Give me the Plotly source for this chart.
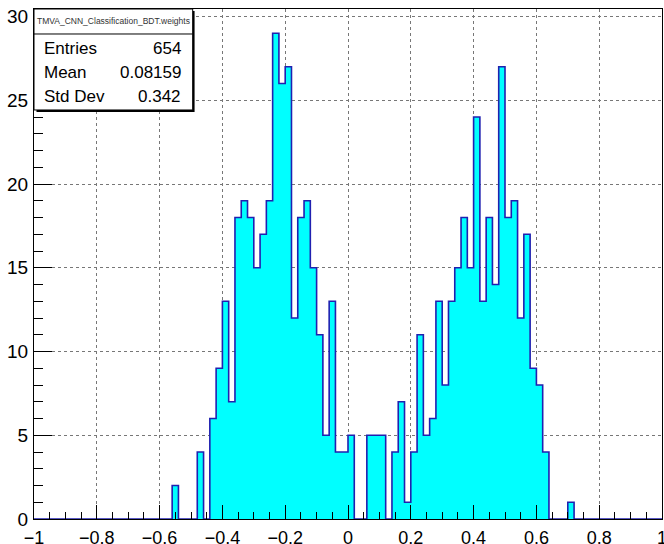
import numpy as np
import plotly.graph_objects as go

# Histogram definition
x_min, x_max, n_bins = -1.0, 1.0, 100

# Non-empty bins: lower edge of each bin and its count
bin_low = [-0.56, -0.48, -0.44, -0.42, -0.40, -0.38, -0.36, -0.34, -0.32, -0.30,
           -0.28, -0.26, -0.24, -0.22, -0.20, -0.18, -0.16, -0.14, -0.12, -0.10,
           -0.08, -0.06, -0.04, -0.02, 0.00, 0.06, 0.08, 0.10, 0.14, 0.16,
           0.18, 0.20, 0.22, 0.24, 0.26, 0.28, 0.30, 0.32, 0.34, 0.36,
           0.38, 0.40, 0.42, 0.44, 0.46, 0.48, 0.50, 0.52, 0.54, 0.56,
           0.58, 0.60, 0.62, 0.70]
counts = [2, 4, 6, 9, 13, 7, 18, 19, 18, 15,
          17, 19, 29, 26, 27, 12, 18, 19, 15, 11,
          5, 13, 4, 4, 5, 5, 5, 5, 4, 7,
          1, 4, 11, 5, 6, 13, 8, 13, 15, 18,
          15, 24, 13, 18, 14, 27, 18, 19, 12, 17,
          9, 8, 4, 1]

x_tick_vals = [-1, -0.8, -0.6, -0.4, -0.2, 0, 0.2, 0.4, 0.6, 0.8, 1]
x_tick_text = ["\u22121", "\u22120.8", "\u22120.6", "\u22120.4", "\u22120.2", "0",
               "0.2", "0.4", "0.6", "0.8", "1"]
y_tick_vals = [0, 5, 10, 15, 20, 25, 30]
y_tick_text = ["0", "5", "10", "15", "20", "25", "30"]

stats_title = "TMVA_CNN_Classification_BDT.weights"
stats_labels = ["Entries", "Mean", "Std Dev"]
stats_values = ["654", "0.08159", "0.342"]

# Build full binned content
width = (x_max - x_min) / n_bins
edges = x_min + width * np.arange(n_bins + 1)
full = np.zeros(n_bins)
for lo, c in zip(bin_low, counts):
    full[int(round((lo - x_min) / width))] = c
step_y = np.append(full, full[-1])

FONT = "Liberation Sans, Arial, Helvetica, sans-serif"

fig = go.Figure()
fig.add_trace(go.Scatter(
    x=edges, y=step_y, mode="lines", line_shape="hv",
    fill="tozeroy", fillcolor="#00ffff",
    line=dict(color="#2020b0", width=1.6),
    hoverinfo="skip", showlegend=False,
))

ymax = max(counts) * 1.05

fig.update_layout(
    width=664, height=544,
    margin=dict(l=34, r=2, t=9, b=25, autoexpand=False),
    paper_bgcolor="white", plot_bgcolor="white",
    font=dict(family=FONT, size=18, color="black"),
    showlegend=False,
    xaxis=dict(
        range=[x_min, x_max], tickmode="array", tickvals=x_tick_vals, ticktext=x_tick_text,
        ticks="inside", ticklen=14, tickwidth=1, tickcolor="black",
        minor=dict(ticks="inside", ticklen=7, dtick=0.05, tick0=0, tickcolor="black", showgrid=False),
        showline=True, linecolor="black", linewidth=1, mirror=True,
        showgrid=True, gridcolor="#777777", griddash="dot", gridwidth=1,
        zeroline=False, ticklabelstandoff=2, ticklabeloverflow="allow",
        tickfont=dict(family=FONT, size=18),
    ),
    yaxis=dict(
        range=[0, ymax], tickmode="array", tickvals=y_tick_vals, ticktext=y_tick_text,
        ticks="inside", ticklen=18, tickwidth=1, tickcolor="black",
        minor=dict(ticks="inside", ticklen=9, dtick=1, tick0=0, tickcolor="black", showgrid=False),
        showline=True, linecolor="black", linewidth=1, mirror=True,
        showgrid=True, gridcolor="#777777", griddash="dot", gridwidth=1,
        zeroline=False, ticklabelstandoff=1, ticklabeloverflow="allow",
        tickfont=dict(family=FONT, size=19),
    ),
)

# Stats box (paper coordinates)
bx0, bx1, by0, by1 = 0.0, 0.2527, 0.802, 1.0
sep = 0.951
fig.add_shape(type="rect", xref="paper", yref="paper", x0=bx0 + 0.004, x1=bx1 + 0.003,
              y0=by0 - 0.004, y1=by1 - 0.004, fillcolor="black", line=dict(width=0), layer="above")
fig.add_shape(type="rect", xref="paper", yref="paper", x0=bx0, x1=bx1, y0=by0, y1=by1,
              fillcolor="white", line=dict(color="black", width=1), layer="above")
fig.add_shape(type="line", xref="paper", yref="paper", x0=bx0, x1=bx1, y0=sep, y1=sep,
              line=dict(color="black", width=1), layer="above")
fig.add_annotation(xref="paper", yref="paper", x=(bx0 + bx1) / 2, y=0.977, text=stats_title,
                   showarrow=False, font=dict(family=FONT, size=8.5, color="#333333"),
                   xanchor="center", yanchor="middle")
row_y = [0.9216, 0.875, 0.828]
for lab, val, yy in zip(stats_labels, stats_values, row_y):
    fig.add_annotation(xref="paper", yref="paper", x=0.0123, y=yy, text=lab, showarrow=False,
                       font=dict(family=FONT, size=17), xanchor="left", yanchor="middle")
    fig.add_annotation(xref="paper", yref="paper", x=0.2377, y=yy, text=val, showarrow=False,
                       font=dict(family=FONT, size=17), xanchor="right", yanchor="middle")

# remove the default page margin so the 664x544 figure fills the window exactly
fig.write_html("out.html",
               config={"displayModeBar": False},
               post_script="document.body.style.margin='0';document.body.style.overflow='hidden';")
